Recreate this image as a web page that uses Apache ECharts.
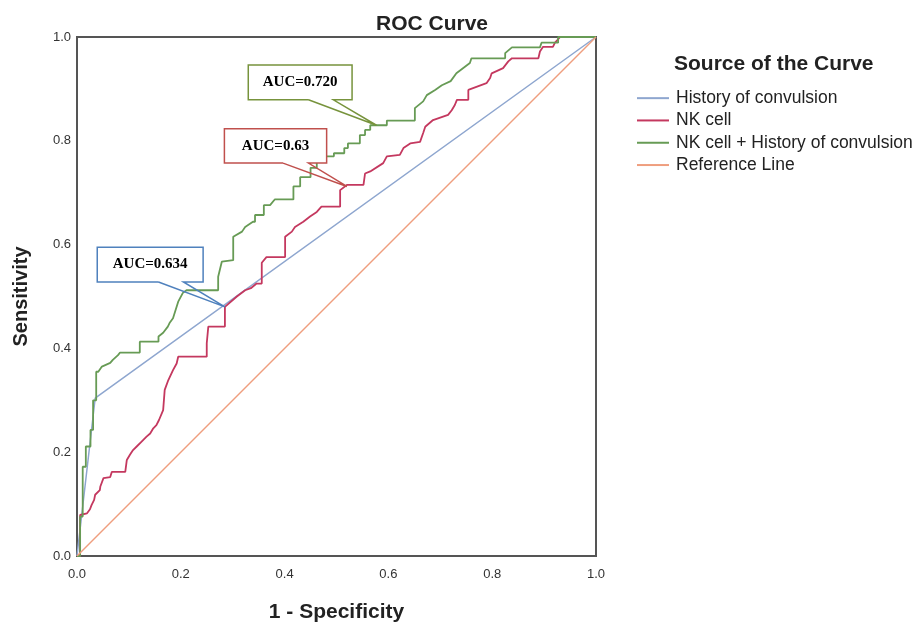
<!DOCTYPE html>
<html>
<head>
<meta charset="utf-8">
<script src="https://cdn.jsdelivr.net/npm/echarts@6/dist/echarts.min.js"></script>
<style>
  html, body { margin: 0; padding: 0; background: #fff; }
  #roc { width: 919px; height: 624px; }
</style>
</head>
<body>
<div id="roc"></div>
<script>
// ROC data, [1 - specificity, sensitivity]
const seriesNames = ["History of convulsion", "NK cell", "NK cell + History of convulsion", "Reference Line"];
const tickLabels = ["0.0", "0.2", "0.4", "0.6", "0.8", "1.0"];

const historyPts = [[0, 0], [0.035, 0.304], [1, 1]];

const nkPts = [
  [0, 0], [0.006, 0], [0.006, 0.079], [0.019, 0.082], [0.025, 0.09], [0.028, 0.098],
  [0.033, 0.108], [0.035, 0.118], [0.044, 0.127], [0.045, 0.134], [0.051, 0.15],
  [0.064, 0.152], [0.067, 0.162], [0.093, 0.162], [0.096, 0.185], [0.102, 0.195],
  [0.108, 0.204], [0.115, 0.211], [0.124, 0.22], [0.134, 0.23], [0.141, 0.236],
  [0.147, 0.246], [0.153, 0.252], [0.158, 0.262], [0.166, 0.281], [0.169, 0.32],
  [0.176, 0.339], [0.185, 0.358], [0.192, 0.371], [0.195, 0.384], [0.25, 0.384],
  [0.25, 0.41], [0.253, 0.442], [0.285, 0.442], [0.285, 0.48], [0.308, 0.5],
  [0.324, 0.512], [0.335, 0.516], [0.346, 0.525], [0.356, 0.525], [0.356, 0.565],
  [0.365, 0.576], [0.401, 0.576], [0.401, 0.615], [0.414, 0.625], [0.42, 0.634],
  [0.436, 0.644], [0.449, 0.654], [0.462, 0.663], [0.471, 0.673], [0.507, 0.673],
  [0.507, 0.705], [0.52, 0.715], [0.552, 0.715], [0.555, 0.737], [0.565, 0.741],
  [0.59, 0.757], [0.597, 0.77], [0.622, 0.773], [0.629, 0.786], [0.642, 0.795],
  [0.661, 0.798], [0.667, 0.815], [0.671, 0.827], [0.686, 0.84], [0.715, 0.85],
  [0.722, 0.859], [0.728, 0.869], [0.732, 0.879], [0.754, 0.879], [0.754, 0.898],
  [0.789, 0.911], [0.796, 0.921], [0.799, 0.93], [0.821, 0.94], [0.831, 0.953],
  [0.838, 0.959], [0.889, 0.959], [0.892, 0.972], [0.898, 0.981], [0.917, 0.981],
  [0.921, 0.989], [0.931, 1], [1, 1]
];

const comboPts = [
  [0, 0], [0.006, 0], [0.006, 0.076], [0.011, 0.076], [0.011, 0.172], [0.017, 0.172],
  [0.017, 0.211], [0.026, 0.211], [0.026, 0.243], [0.031, 0.243], [0.031, 0.3],
  [0.037, 0.3], [0.037, 0.355], [0.041, 0.355], [0.048, 0.365], [0.064, 0.372],
  [0.069, 0.378], [0.079, 0.387], [0.083, 0.392], [0.121, 0.392], [0.121, 0.413],
  [0.157, 0.413], [0.157, 0.423], [0.166, 0.43], [0.175, 0.442], [0.179, 0.45],
  [0.185, 0.458], [0.195, 0.49], [0.198, 0.493], [0.204, 0.507], [0.211, 0.512],
  [0.272, 0.512], [0.272, 0.538], [0.279, 0.567], [0.282, 0.57], [0.301, 0.57],
  [0.301, 0.615], [0.318, 0.625], [0.324, 0.634], [0.339, 0.644], [0.343, 0.644],
  [0.343, 0.657], [0.36, 0.657], [0.36, 0.676], [0.372, 0.676], [0.381, 0.687],
  [0.417, 0.687], [0.417, 0.712], [0.43, 0.712], [0.43, 0.73], [0.45, 0.73],
  [0.45, 0.748], [0.462, 0.748], [0.462, 0.76], [0.476, 0.76], [0.476, 0.77],
  [0.495, 0.77], [0.495, 0.776], [0.515, 0.776], [0.515, 0.786], [0.522, 0.786],
  [0.522, 0.795], [0.545, 0.795], [0.545, 0.811], [0.555, 0.811], [0.555, 0.821],
  [0.565, 0.821], [0.565, 0.83], [0.597, 0.83], [0.597, 0.839], [0.651, 0.839],
  [0.651, 0.863], [0.667, 0.876], [0.674, 0.888], [0.69, 0.898], [0.703, 0.907],
  [0.72, 0.915], [0.731, 0.93], [0.757, 0.95], [0.76, 0.959], [0.825, 0.959],
  [0.825, 0.969], [0.838, 0.98], [0.892, 0.98], [0.895, 0.989], [0.927, 0.989],
  [0.927, 1], [1, 1]
];

const refPts = [[0, 0], [1, 1]];

const aucLabels = ["AUC=0.634", "AUC=0.63", "AUC=0.720"];

(function () {
  let dom = document.querySelector("#roc");
  let myChart = echarts.init(dom);
  let colors = ["#8ea6cf", "#c4385f", "#679b55", "#ef9e7e"];

  function lineSeries(name, data, width, z) {
    return {
      name: name,
      type: "line",
      data: data,
      showSymbol: false,
      symbol: "none",
      z: z,
      lineStyle: { width: width },
      emphasis: { disabled: true }
    };
  }

  let options = {
    animation: false,
    color: colors,
    title: [
      {
        text: "ROC Curve",
        left: 371,
        top: 9,
        textStyle: { fontFamily: "Liberation Sans", fontSize: 21, fontWeight: "bold", color: "#222" }
      },
      {
        text: "Source of the Curve",
        left: 669,
        top: 49,
        textStyle: { fontFamily: "Liberation Sans", fontSize: 21, fontWeight: "bold", color: "#222" }
      }
    ],
    legend: {
      orient: "vertical",
      left: 637,
      top: 89,
      padding: 0,
      icon: "rect",
      itemWidth: 32,
      itemHeight: 2,
      itemGap: 4,
      data: seriesNames,
      textStyle: { fontFamily: "Liberation Sans", fontSize: 17.5, lineHeight: 18.3, color: "#222", padding: [0, 0, 0, 2] }
    },
    // 绘图区大小，固定像素，不让轴名挤压
    grid: {
      left: 77,
      top: 37,
      width: 519,
      height: 519,
      outerBoundsMode: "none",
      containLabel: false,
      show: true,
      borderColor: "#555",
      borderWidth: 2
    },
    xAxis: {
      type: "value",
      min: 0,
      max: 1,
      interval: 0.2,
      name: "1 - Specificity",
      nameLocation: "middle",
      nameGap: 46,
      nameTextStyle: { fontFamily: "Liberation Sans", fontSize: 21, fontWeight: "bold", color: "#222" },
      axisLine: { show: true, lineStyle: { color: "#555", width: 2 } },
      axisTick: { show: false },
      splitLine: { show: false },
      axisLabel: {
        margin: 12,
        fontFamily: "Liberation Sans",
        fontSize: 13,
        color: "#333",
        formatter: function (v) { return tickLabels[Math.round(v * 5)]; }
      }
    },
    yAxis: {
      type: "value",
      min: 0,
      max: 1,
      interval: 0.2,
      name: "Sensitivity",
      nameLocation: "middle",
      nameGap: 46,
      nameTextStyle: { fontFamily: "Liberation Sans", fontSize: 20, fontWeight: "bold", color: "#222" },
      axisLine: { show: true, lineStyle: { color: "#555", width: 2 } },
      axisTick: { show: false },
      splitLine: { show: false },
      axisLabel: {
        margin: 6,
        padding: [10, 0, 0, 0],
        fontFamily: "Liberation Sans",
        fontSize: 13,
        color: "#333",
        formatter: function (v) { return tickLabels[Math.round(v * 5)]; }
      }
    },
    series: [
      lineSeries(seriesNames[0], historyPts, 1.5, 2),
      lineSeries(seriesNames[1], nkPts, 1.8, 3),
      lineSeries(seriesNames[2], comboPts, 1.8, 4),
      lineSeries(seriesNames[3], refPts, 1.5, 5)
    ]
  };
  myChart.setOption(options);

  // callout boxes, in data coordinates
  let callouts = [
    { text: aucLabels[0], color: "#4f81bd", x0: 0.039, x1: 0.243, yTop: 0.595, yBot: 0.528, b0: 0.157, b1: 0.205, tip: [0.285, 0.48] },
    { text: aucLabels[1], color: "#c0504d", x0: 0.284, x1: 0.481, yTop: 0.823, yBot: 0.757, b0: 0.397, b1: 0.446, tip: [0.52, 0.712] },
    { text: aucLabels[2], color: "#77933c", x0: 0.33, x1: 0.53, yTop: 0.946, yBot: 0.879, b0: 0.446, b1: 0.494, tip: [0.577, 0.83] }
  ];
  let px = function (p) { return myChart.convertToPixel({ gridIndex: 0 }, p); };
  let elements = [];
  callouts.forEach(function (c) {
    let tl = px([c.x0, c.yTop]);
    let br = px([c.x1, c.yBot]);
    elements.push({
      type: "rect",
      z: 100,
      shape: { x: tl[0], y: tl[1], width: br[0] - tl[0], height: br[1] - tl[1] },
      style: { fill: "#fff" }
    });
    let pts = [
      px([c.b0, c.yBot]), px([c.x0, c.yBot]), px([c.x0, c.yTop]), px([c.x1, c.yTop]),
      px([c.x1, c.yBot]), px([c.b1, c.yBot]), px(c.tip), px([c.b0, c.yBot])
    ];
    elements.push({
      type: "polyline",
      z: 101,
      shape: { points: pts },
      style: { fill: null, stroke: c.color, lineWidth: 1.5 }
    });
    elements.push({
      type: "text",
      z: 102,
      x: (tl[0] + br[0]) / 2,
      y: (tl[1] + br[1]) / 2,
      style: {
        text: c.text,
        fontFamily: "Liberation Serif",
        fontSize: 15,
        fontWeight: "bold",
        fill: "#000",
        align: "center",
        verticalAlign: "middle"
      }
    });
  });
  myChart.setOption({ graphic: { elements: elements } });

  window.addEventListener("resize", () => {
    myChart.resize();
  });
})();
</script>
</body>
</html>
